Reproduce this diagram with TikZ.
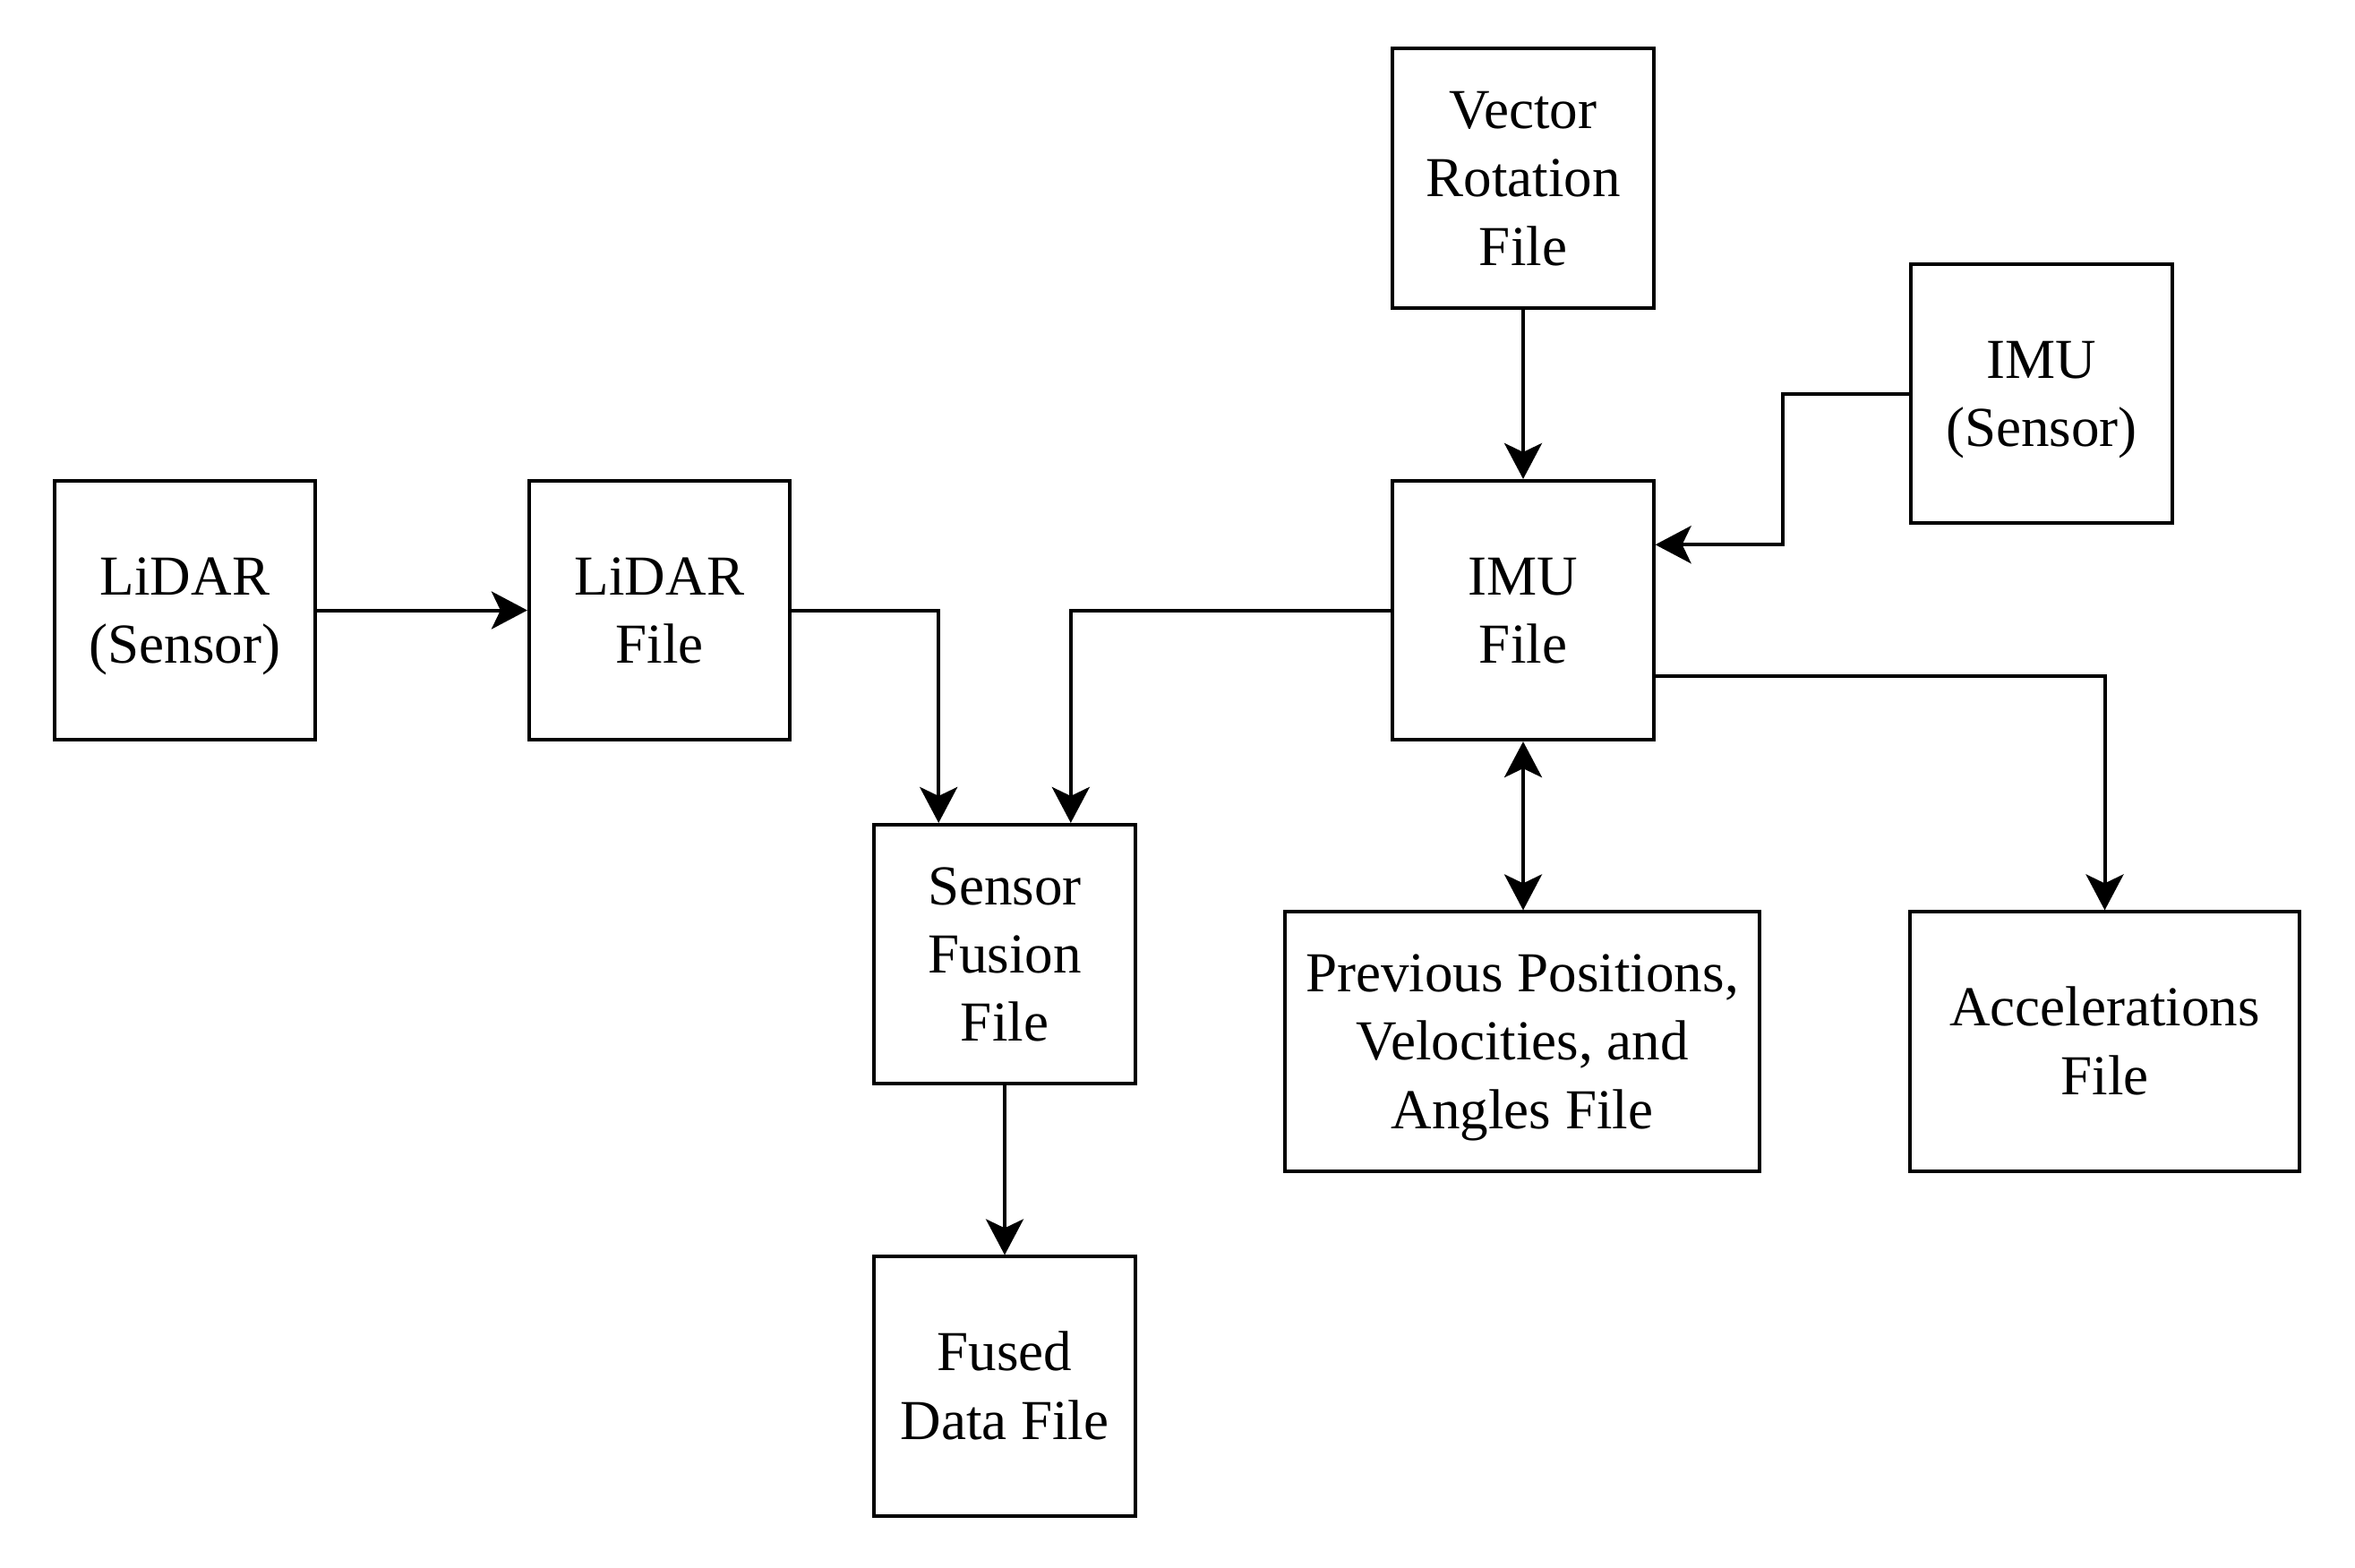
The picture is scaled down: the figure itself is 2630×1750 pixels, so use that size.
\documentclass[tikz,border=0pt]{standalone}
\usepackage{fontspec}
\setmainfont{Liberation Serif}
\usetikzlibrary{arrows.meta,calc}
\newcommand{\ms}{\rule[-4.1pt]{0pt}{20.1pt}}
\begin{document}
\begin{tikzpicture}[x=0.01cm,y=-0.01cm,
  box/.style={draw=black, line width=1.14pt, minimum width=2.91cm, minimum height=2.89cm,
    inner sep=0pt, align=center, font=\fontsize{17.93}{21.7}\selectfont},
  arr/.style={line width=1.14pt, -{Stealth[length=0.40cm,width=0.42cm,inset=0.1cm]}},
  darr/.style={line width=1.14pt, {Stealth[length=0.40cm,width=0.42cm,inset=0.1cm]}-{Stealth[length=0.40cm,width=0.42cm,inset=0.1cm]}}
  ]
\fill[white] (0,0) rectangle (2630,1750);
\useasboundingbox (0,0) rectangle (2630,1750);

\node[box] (A) at (206.5,681.5) {\ms LiDAR\\\ms (Sensor)};
\node[box] (B) at (736.5,681.5) {\ms LiDAR\\\ms File};
\node[box] (C) at (1122,1065.5) {\ms Sensor\\\ms Fusion\\\ms File};
\node[box] (D) at (1122,1548) {\ms Fused\\\ms Data File};
\node[box] (E) at (1701,199) {\ms Vector\\\ms Rotation\\\ms File};
\node[box] (F) at (1701,681.5) {\ms IMU\\\ms File};
\node[box] (G) at (2280,439.5) {\ms IMU\\\ms (Sensor)};
\node[box, minimum width=5.3cm] (H) at (1700,1163) {\ms Previous Positions,\\\ms Velocities, and\\\ms Angles File};
\node[box, minimum width=4.35cm] (I) at (2350.5,1163) {\ms Accelerations\\\ms File};

\coordinate (c1) at ($(C.north west)!0.25!(C.north east)$);
\coordinate (c2) at ($(C.north west)!0.75!(C.north east)$);
\coordinate (f1) at ($(F.north east)!0.25!(F.south east)$);
\coordinate (f2) at ($(F.north east)!0.75!(F.south east)$);
\coordinate (gm) at ($(G.west)!0.5!(f1)$);

\draw[arr] (A.east) -- (B.west);
\draw[arr] (B.east) -| (c1);
\draw[arr] (F.west) -| (c2);
\draw[arr] (C.south) -- (D.north);
\draw[arr] (E.south) -- (F.north);
\draw[arr] (G.west) -| (gm) |- (f1);
\draw[arr] (f2) -| (I.north);
\draw[darr] (F.south) -- (F.south |- H.north);
\end{tikzpicture}
\end{document}
